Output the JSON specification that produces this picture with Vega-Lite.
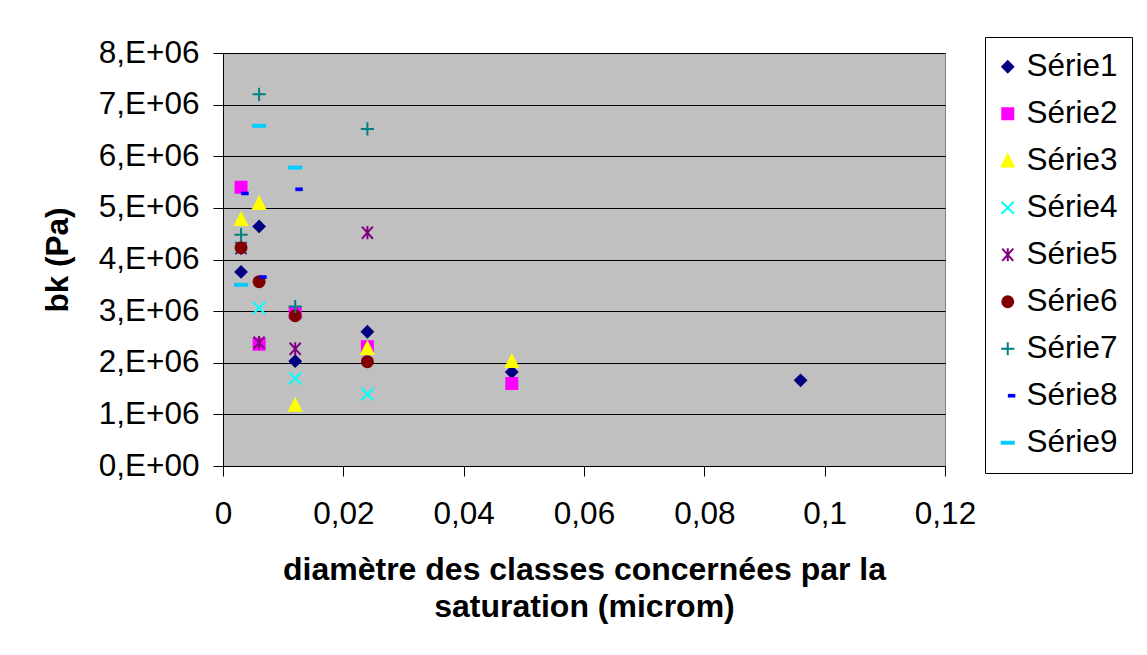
{
  "$schema": "https://vega.github.io/schema/vega-lite/v6.json",
  "width": 722,
  "height": 413,
  "autosize": {"type": "none"},
  "padding": {"left": 223, "top": 53, "right": 202, "bottom": 189},
  "background": "white",
  "config": {
    "font": "Liberation Sans",
    "view": {"fill": "#C0C0C0", "stroke": "#808080", "strokeWidth": 1}
  },
  "data": {
    "values": [
      {"x": 0.003, "y": 3760000, "s": "Série1"},
      {"x": 0.006, "y": 4640000, "s": "Série1"},
      {"x": 0.012, "y": 2030000, "s": "Série1"},
      {"x": 0.024, "y": 2600000, "s": "Série1"},
      {"x": 0.048, "y": 1820000, "s": "Série1"},
      {"x": 0.096, "y": 1660000, "s": "Série1"},
      {"x": 0.003, "y": 5400000, "s": "Série2"},
      {"x": 0.006, "y": 2360000, "s": "Série2"},
      {"x": 0.012, "y": 2970000, "s": "Série2"},
      {"x": 0.024, "y": 2310000, "s": "Série2"},
      {"x": 0.048, "y": 1600000, "s": "Série2"},
      {"x": 0.003, "y": 4780000, "s": "Série3"},
      {"x": 0.006, "y": 5090000, "s": "Série3"},
      {"x": 0.012, "y": 1180000, "s": "Série3"},
      {"x": 0.024, "y": 2280000, "s": "Série3"},
      {"x": 0.048, "y": 2030000, "s": "Série3"},
      {"x": 0.003, "y": 4230000, "s": "Série4"},
      {"x": 0.006, "y": 3060000, "s": "Série4"},
      {"x": 0.012, "y": 1700000, "s": "Série4"},
      {"x": 0.024, "y": 1390000, "s": "Série4"},
      {"x": 0.003, "y": 4220000, "s": "Série5"},
      {"x": 0.006, "y": 2390000, "s": "Série5"},
      {"x": 0.012, "y": 2270000, "s": "Série5"},
      {"x": 0.024, "y": 4520000, "s": "Série5"},
      {"x": 0.003, "y": 4230000, "s": "Série6"},
      {"x": 0.006, "y": 3570000, "s": "Série6"},
      {"x": 0.012, "y": 2910000, "s": "Série6"},
      {"x": 0.024, "y": 2020000, "s": "Série6"},
      {"x": 0.003, "y": 4480000, "s": "Série7"},
      {"x": 0.006, "y": 7200000, "s": "Série7"},
      {"x": 0.012, "y": 3090000, "s": "Série7"},
      {"x": 0.024, "y": 6530000, "s": "Série7"},
      {"x": 0.003, "y": 5280000, "s": "Série8"},
      {"x": 0.006, "y": 3660000, "s": "Série8"},
      {"x": 0.012, "y": 5360000, "s": "Série8"},
      {"x": 0.003, "y": 3510000, "s": "Série9"},
      {"x": 0.006, "y": 6590000, "s": "Série9"},
      {"x": 0.012, "y": 5780000, "s": "Série9"}
    ]
  },
  "mark": {"type": "point", "filled": true, "size": 121, "strokeWidth": 2, "opacity": 1},
  "encoding": {
    "x": {
      "field": "x", "type": "quantitative",
      "scale": {"domain": [0, 0.12], "nice": false, "zero": false},
      "axis": {
        "values": [0, 0.02, 0.04, 0.06, 0.08, 0.1, 0.12],
        "labelExpr": "replace(format(datum.value, '~g'), '.', ',')",
        "grid": false,
        "domainColor": "black", "tickColor": "black", "tickSize": 10,
        "labelFontSize": 31.5, "labelColor": "black", "labelPadding": 22, "labelFlush": false,
        "title": ["diamètre des classes concernées par la\u00a0", "saturation (microm)"],
        "titleFontSize": 32, "titleFontWeight": "bold", "titleColor": "black",
        "titlePadding": 25, "titleLineHeight": 37, "titleX": 361
      }
    },
    "y": {
      "field": "y", "type": "quantitative",
      "scale": {"domain": [0, 8000000], "nice": false},
      "axis": {
        "values": [0, 1000000, 2000000, 3000000, 4000000, 5000000, 6000000, 7000000, 8000000],
        "labelExpr": "datum.value == 0 ? '0,E+00' : (datum.value / 1000000) + ',E+06'",
        "grid": true, "gridColor": "black", "gridOpacity": 1, "gridWidth": 1,
        "domainColor": "black", "tickColor": "black", "tickSize": 10,
        "labelFontSize": 31.5, "labelColor": "black", "labelPadding": 14,
        "title": "bk (Pa)",
        "titleFontSize": 31.5, "titleFontWeight": "bold", "titleColor": "black",
        "titlePadding": 24
      }
    },
    "fill": {
      "field": "s", "type": "nominal",
      "scale": {
        "domain": ["Série1", "Série2", "Série3", "Série4", "Série5", "Série6", "Série7", "Série8", "Série9"],
        "range": ["#000080", "#FF00FF", "#FFFF00", "#00FFFF", "#800080", "#800000", "#008080", "#0000FF", "#00CCFF"]
      },
      "legend": null
    },
    "stroke": {
      "field": "s", "type": "nominal",
      "scale": {
        "domain": ["Série1", "Série2", "Série3", "Série4", "Série5", "Série6", "Série7", "Série8", "Série9"],
        "range": ["#000080", "#FF00FF", "#FFFF00", "#00FFFF", "#800080", "#800000", "#008080", "#0000FF", "#00CCFF"]
      },
      "legend": null
    },
    "shape": {
      "field": "s", "type": "nominal",
      "scale": {
        "domain": ["Série1", "Série2", "Série3", "Série4", "Série5", "Série6", "Série7", "Série8", "Série9"],
        "range": [
          "diamond",
          "square",
          "M0,-1.1L-1.1,1.05L1.1,1.05Z",
          "M-1.1,-1.1L1.1,1.1M-1.1,1.1L1.1,-1.1",
          "M-1,-1.1L1,1.1M-1,1.1L1,-1.1M0,-1.2L0,1.2",
          "circle",
          "M-1.2,0L1.2,0M0,-1.2L0,1.2",
          "M0.2,-0.15L1.2,-0.15L1.2,0.15L0.2,0.15Z",
          "M-1.1,-0.18L1.1,-0.18L1.1,0.18L-1.1,0.18Z"
        ]
      },
      "legend": {
        "title": null,
        "orient": "none",
        "legendX": 762,
        "legendY": -16,
        "padding": 14,
        "strokeColor": "black",
        "fillColor": "white",
        "labelFontSize": 31.5,
        "labelColor": "black",
        "labelOffset": 3,
        "symbolOffset": -7,
        "rowPadding": 14,
        "symbolSize": 121,
        "symbolStrokeWidth": 2,
        "symbolOpacity": 1
      }
    }
  }
}
